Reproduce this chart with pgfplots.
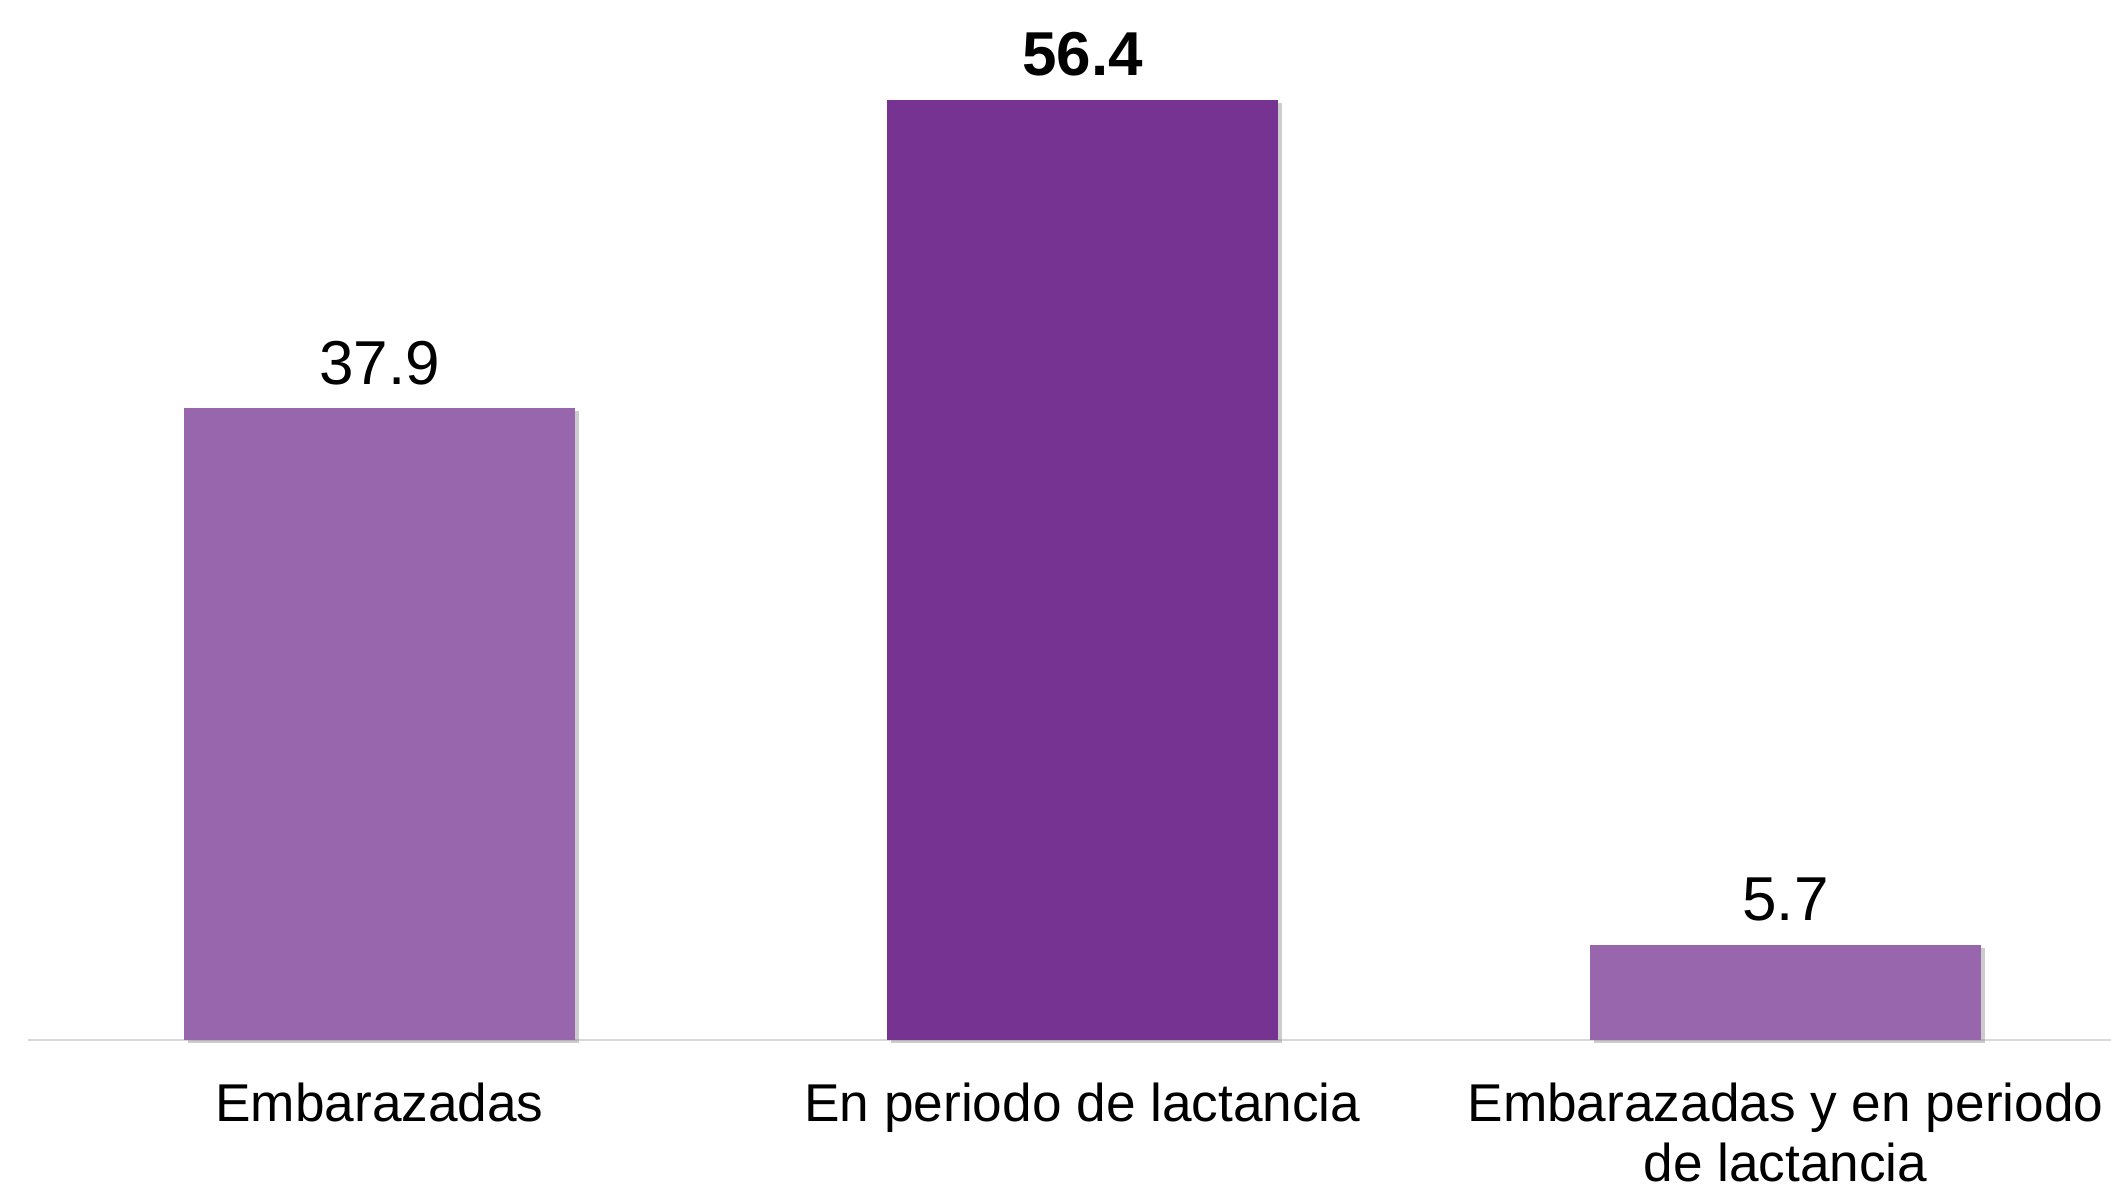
\documentclass[border=0pt]{standalone}
\usepackage{pgfplots}
\pgfplotsset{compat=1.18}
\usepackage{fontspec}
\setmainfont{Liberation Sans}
\usetikzlibrary{shadows}
\definecolor{lightpurple}{RGB}{152,102,173}
\definecolor{darkpurple}{RGB}{119,51,146}
\definecolor{axisgray}{RGB}{217,217,217}
\begin{document}
\begin{tikzpicture}
\begin{axis}[
  scale only axis,
  width=520.75pt, height=260pt,
  xmin=-0.5, xmax=2.463,
  ymin=0, ymax=62.4,
  axis x line*=bottom,
  axis y line=none,
  x axis line style={draw=axisgray, line width=0.6pt, -},
  xtick={0,1,2},
  xticklabels={Embarazadas, En periodo de lactancia, {Embarazadas y en periodo\\de lactancia}},
  major tick length=0pt,
  xticklabel style={anchor=north, inner sep=0pt, yshift=-10.5pt, align=center,
    font=\fontsize{13.3}{15}\selectfont},
  ytick=\empty,
  clip=false,
  ybar, bar width=97.75pt, bar shift=0pt,
  nodes near coords,
  nodes near coords style={anchor=base, inner sep=0pt, yshift=6pt,
    font=\fontsize{15.5}{18}\selectfont, text=black},
  /pgf/number format/.cd, fixed, precision=1, fixed zerofill, assume math mode=true,
]
\addplot[fill=lightpurple, draw=none,
  drop shadow={shadow xshift=1.1pt, shadow yshift=-0.7pt, opacity=0.4}]
  coordinates {(0,37.9)};
\addplot[fill=darkpurple, draw=none,
  nodes near coords style={font=\fontsize{15.5}{18}\selectfont\bfseries},
  drop shadow={shadow xshift=1.1pt, shadow yshift=-0.7pt, opacity=0.4}]
  coordinates {(1,56.4)};
\addplot[fill=lightpurple, draw=none,
  drop shadow={shadow xshift=1.1pt, shadow yshift=-0.7pt, opacity=0.4}]
  coordinates {(2,5.7)};
\end{axis}
\pgfresetboundingbox
\path[use as bounding box] (-7pt,-36.25pt) rectangle (520.75pt,260pt);
\end{tikzpicture}
\end{document}
